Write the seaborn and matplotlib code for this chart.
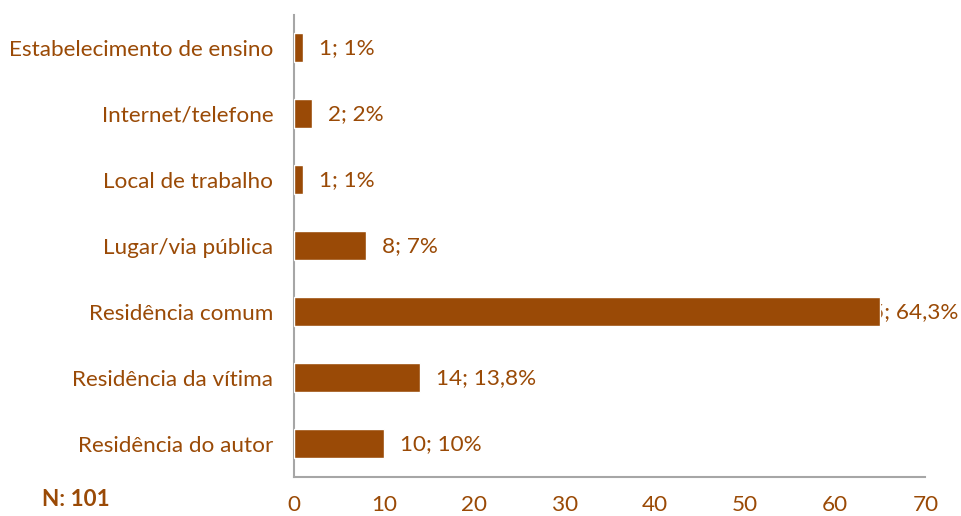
import matplotlib
matplotlib.use("Agg")
import matplotlib.pyplot as plt
import matplotlib.transforms as mtransforms
import seaborn as sns
import pandas as pd

categories = ["Estabelecimento de ensino", "Internet/telefone", "Local de trabalho",
              "Lugar/via pública", "Residência comum", "Residência da vítima",
              "Residência do autor"]
counts = [1, 2, 1, 8, 65, 14, 10]
percents = ["1%", "2%", "1%", "7%", "64,3%", "13,8%", "10%"]
xticks = [0, 10, 20, 30, 40, 50, 60, 70]

brown = "#9A4A06"
grey = "#A6A6A6"
fs = 16.2

sns.set_style("white")
plt.rcParams["font.family"] = ["Lato", "DejaVu Sans"]

df = pd.DataFrame({"local": categories, "n": counts})

fig = plt.figure(figsize=(9.61, 5.16), dpi=100)
ax = fig.add_axes([0.306, 0.076, 0.657, 0.895])
sns.barplot(data=df, y="local", x="n", color=brown, width=0.44,
            orient="h", ax=ax, saturation=1, zorder=3)

edge_tr = mtransforms.blended_transform_factory(fig.transFigure, ax.transData)
for i, (c, p) in enumerate(zip(counts, percents)):
    txt = f"{c}; {p}"
    if c + 11 > 70:
        # too long to fit: pinned to the right edge, partly hidden by the bar
        ax.text(0.997, i, txt, transform=edge_tr, ha="right", va="center",
                color=brown, fontsize=fs, zorder=1, clip_on=False)
    else:
        ax.text(c + 1.75, i, txt, ha="left", va="center", color=brown,
                fontsize=fs, zorder=4)

ax.set_xlim(0, 70)
ax.set_ylim(len(categories) - 0.5, -0.5)
ax.set_xticks(xticks)
ax.set_yticks([i - 0.5 for i in range(len(categories) + 1)], minor=False)
ax.set_yticklabels([])
ax.set_yticks(range(len(categories)), minor=True)
ax.set_yticklabels(categories, minor=True)
ax.tick_params(axis="y", which="major", length=7, color=grey, width=1.2, direction="out")
ax.tick_params(axis="y", which="minor", length=0, pad=15, labelsize=fs, labelcolor=brown)
ax.tick_params(axis="x", length=7, color=grey, width=1.2, direction="out",
               labelsize=fs, labelcolor=brown, pad=6)
ax.set_xlabel("")
ax.set_ylabel("")

for side in ["top", "right"]:
    ax.spines[side].set_visible(False)
for side in ["left", "bottom"]:
    ax.spines[side].set_color(grey)
    ax.spines[side].set_linewidth(1.5)

fig.text(0.044, 0.02, "N: 101", color=brown, fontsize=fs, fontweight="bold")

fig.savefig("out.png", dpi=100)
